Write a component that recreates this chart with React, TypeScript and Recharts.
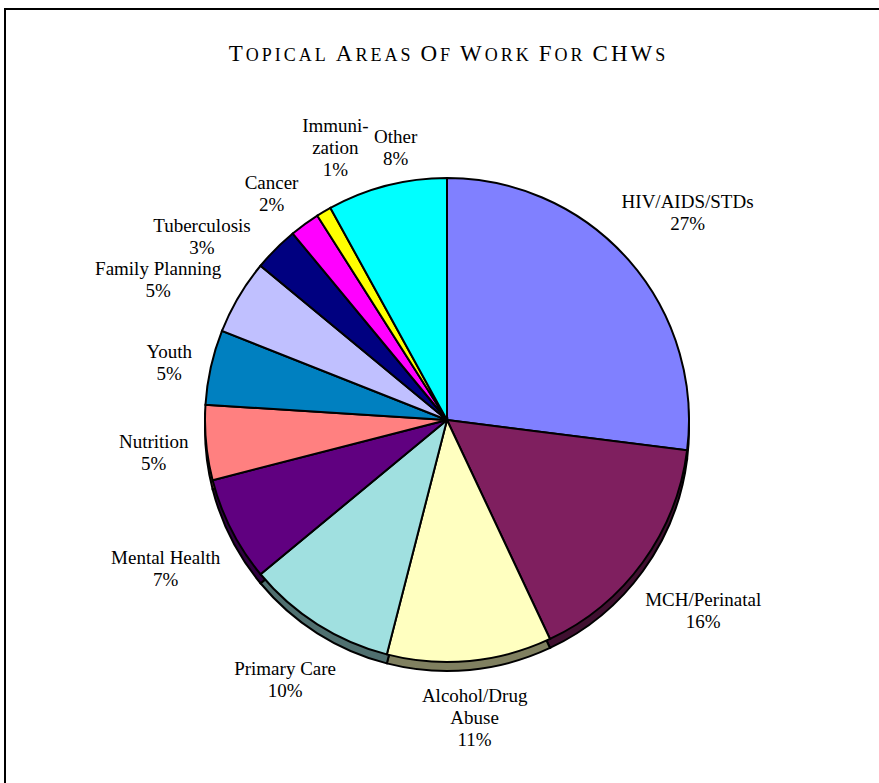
import React from "react";
import { PieChart, Pie, Cell } from "recharts";

const categories = [
  "HIV/AIDS/STDs",
  "MCH/Perinatal",
  "Alcohol/Drug\nAbuse",
  "Primary Care",
  "Mental Health",
  "Nutrition",
  "Youth",
  "Family Planning",
  "Tuberculosis",
  "Cancer",
  "Immuni-\nzation",
  "Other",
];
const shares = [27, 16, 11, 10, 7, 5, 5, 5, 3, 2, 1, 8];

const topColors = [
  "#8080FF", "#7F1F5F", "#FFFFC0", "#A0E0E0", "#600080", "#FF8080",
  "#0080C0", "#C0C0FF", "#000080", "#FF00FF", "#FFFF00", "#00FFFF",
];
const sideColors = [
  "#404080", "#401030", "#808060", "#507070", "#300040", "#804040",
  "#004060", "#606080", "#000040", "#800080", "#808000", "#008080",
];

const data = categories.map((name, i) => ({ name, value: shares[i] }));

const FONT = "'Liberation Serif', 'Times New Roman', serif";
const FS = 19;
const LINE = 22;
const CX = 447;
const CY = 420;
const R = 242;
const GAP = 16;

let ctx: CanvasRenderingContext2D | null = null;
const textWidth = (s: string) => {
  if (!ctx) {
    ctx = document.createElement("canvas").getContext("2d");
    if (ctx) ctx.font = `${FS}px 'Liberation Serif'`;
  }
  return ctx ? ctx.measureText(s).width : s.length * 8.8;
};

const labelLines = (i: number) => [...categories[i].split("\n"), `${shares[i]}%`];

// place labels around the pie, then nudge neighbours apart if they collide
const layoutLabels = () => {
  const total = shares.reduce((a, b) => a + b, 0);
  let cum = 0;
  const ang = shares.map((v) => {
    const m = 90 - (360 * (cum + v / 2)) / total;
    cum += v;
    return m;
  });
  const sizes = shares.map((_, i) => {
    const lines = labelLines(i);
    return {
      hw: Math.max(...lines.map(textWidth)) / 2,
      hh: (lines.length * LINE) / 2 - 2,
    };
  });
  const place = (i: number) => {
    const rad = (ang[i] * Math.PI) / 180;
    const c = Math.cos(rad);
    const s = Math.sin(rad);
    const { hw, hh } = sizes[i];
    const r = R + GAP + hw * Math.abs(c) + hh * Math.abs(s);
    return { x: CX + r * c, y: CY - r * s, hw, hh };
  };
  const hit = (a: any, b: any) =>
    Math.abs(a.x - b.x) < a.hw + b.hw + 3 && Math.abs(a.y - b.y) < a.hh + b.hh + 2;
  for (let it = 0; it < 400; it++) {
    let moved = false;
    for (let i = 0; i < shares.length; i++) {
      const j = (i + 1) % shares.length;
      if (hit(place(i), place(j))) {
        ang[i] += 0.3;
        ang[j] -= 0.3;
        moved = true;
      }
    }
    if (!moved) break;
  }
  return shares.map((_, i) => place(i));
};

let layout: { x: number; y: number; hw: number; hh: number }[] | null = null;

const renderLabel = (p: any) => {
  if (!layout) layout = layoutLabels();
  const { index } = p;
  const lines = labelLines(index);
  const { x, y } = layout[index];
  const first = y + 5 - (LINE * (lines.length - 1) - 12.6) / 2;
  return (
    <text x={x} y={first} textAnchor="middle" fontFamily={FONT} fontSize={FS} fill="#000">
      {lines.map((l, i) => (
        <tspan key={i} x={x} dy={i ? LINE : 0}>
          {l}
        </tspan>
      ))}
    </text>
  );
};

const big = { fontSize: 23 };
const small = { fontSize: 25.5, fontVariant: "small-caps" as const };

export default function App() {
  return (
    <div style={{ position: "relative", width: 879, height: 783, overflow: "hidden", background: "#fff" }}>
      <style>{"body{margin:0;overflow:hidden}"}</style>
      <div
        style={{
          position: "absolute",
          left: 4,
          top: 8,
          width: 900,
          height: 800,
          border: "2.5px solid #000",
        }}
      />
      <div
        style={{
          position: "absolute",
          left: 0,
          top: 38,
          width: 897,
          textAlign: "center",
          fontFamily: FONT,
          letterSpacing: 3,
          whiteSpace: "nowrap",
        }}
      >
        <span style={big}>T</span>
        <span style={small}>opical</span> <span style={big}>A</span>
        <span style={small}>reas</span> <span style={big}>O</span>
        <span style={small}>f</span> <span style={big}>W</span>
        <span style={small}>ork</span> <span style={big}>F</span>
        <span style={small}>or</span> <span style={big}>CHW</span>
        <span style={small}>s</span>
      </div>
      <div style={{ position: "absolute", left: 0, top: 0 }}>
        <PieChart width={879} height={783} margin={{ top: 0, right: 0, bottom: 0, left: 0 }}>
          <Pie
            data={data}
            dataKey="value"
            cx={CX}
            cy={CY + 9}
            outerRadius={R}
            startAngle={90}
            endAngle={-270}
            stroke="#000"
            strokeWidth={2}
            isAnimationActive={false}
          >
            {data.map((d, i) => (
              <Cell key={d.name} fill={sideColors[i]} />
            ))}
          </Pie>
          <Pie
            data={data}
            dataKey="value"
            cx={CX}
            cy={CY}
            outerRadius={R}
            startAngle={90}
            endAngle={-270}
            stroke="#000"
            strokeWidth={2}
            label={renderLabel}
            labelLine={false}
            isAnimationActive={false}
          >
            {data.map((d, i) => (
              <Cell key={d.name} fill={topColors[i]} />
            ))}
          </Pie>
        </PieChart>
      </div>
    </div>
  );
}
